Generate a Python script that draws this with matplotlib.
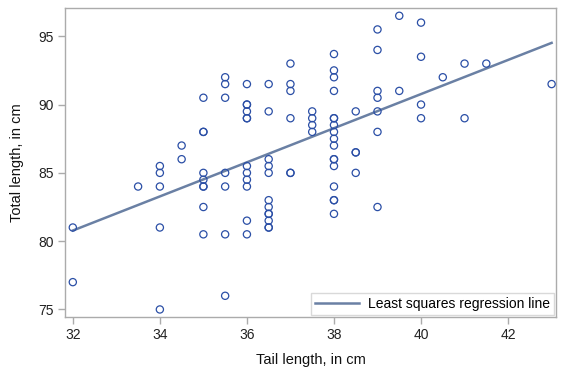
import numpy as np
import matplotlib
matplotlib.use("Agg")
import matplotlib.pyplot as plt

plt.rcParams['font.family'] = ['Liberation Sans', 'DejaVu Sans']

# tail length (cm) -> total lengths (cm), one list per column
tail_cols = [32, 33.5, 34, 34.5, 35, 35.5, 36, 36.5, 37, 37.5, 38, 38.5, 39, 39.5, 40, 40.5, 41, 41.5, 43]
total_cols = [
    [81, 77],
    [84],
    [85.5, 85, 84, 81, 75],
    [87, 86],
    [90.5, 88, 88, 85, 84.5, 84, 84, 82.5, 80.5],
    [92, 91.5, 90.5, 85, 84, 80.5, 76],
    [91.5, 90, 90, 89.5, 89, 89, 85.5, 85, 84.5, 84, 81.5, 80.5],
    [91.5, 89.5, 86, 85.5, 85, 83, 82.5, 82, 82, 81.5, 81, 81],
    [93, 91.5, 91, 89, 85, 85],
    [89.5, 89, 88.5, 88],
    [93.7, 92.5, 92, 91, 89, 89, 88.5, 88, 87.5, 87, 86, 86, 85.5, 84, 83, 83, 82],
    [89.5, 86.5, 86.5, 85],
    [95.5, 94, 91, 90.5, 89.5, 88, 82.5],
    [96.5, 91],
    [96, 93.5, 90, 89],
    [92],
    [93, 89],
    [93],
    [91.5],
]

tail = np.array([t for t, col in zip(tail_cols, total_cols) for _ in col], dtype=float)
total = np.array([v for col in total_cols for v in col], dtype=float)

slope, intercept = np.polyfit(tail, total, 1)
xl = np.array([tail.min(), tail.max()])

fig = plt.figure(figsize=(5.65, 3.76), dpi=100)
ax = fig.add_axes([0.115, 0.157, 0.869, 0.821])

ax.scatter(tail, total, s=27, facecolors='none', edgecolors='#2B4FA6', linewidths=0.9, zorder=3)
ax.plot(xl, intercept + slope * xl, color='#6A80A4', lw=1.8, zorder=2,
        label='Least squares regression line')

ax.set_xlim(31.82, 43.1)
ax.set_ylim(74.45, 97.05)
ax.set_xticks([32, 34, 36, 38, 40, 42])
ax.set_yticks([75, 80, 85, 90, 95])

for s in ax.spines.values():
    s.set_color('#ABABAB')
    s.set_linewidth(1.0)
ax.tick_params(direction='out', length=5, width=1, color='#ABABAB',
               labelsize=10, labelcolor='#222222', pad=3)

ax.set_xlabel('Tail length, in cm', fontsize=10.5, color='#111111', labelpad=8)
ax.set_ylabel('Total length, in cm', fontsize=10.5, color='#111111', labelpad=10)

leg = ax.legend(loc='lower right', fontsize=10, frameon=True, fancybox=False,
                borderaxespad=0.15, borderpad=0.3, handlelength=3.2, handletextpad=0.6)
leg.get_frame().set_edgecolor('#D0D0D0')
leg.get_frame().set_linewidth(1.0)

fig.savefig('out.png', dpi=100)
